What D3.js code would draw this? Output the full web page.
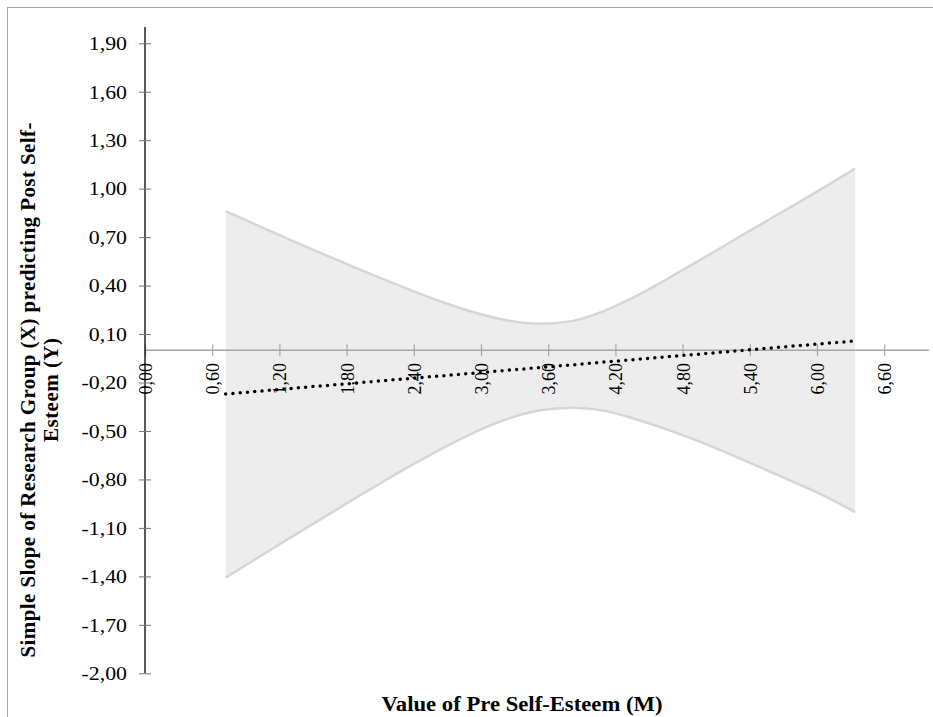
<!DOCTYPE html>
<html>
<head>
<meta charset="utf-8">
<script src="https://cdn.jsdelivr.net/npm/d3@7"></script>
<style>
  html, body { margin: 0; padding: 0; background: #fff; }
  svg { display: block; }
  text { font-family: "Liberation Serif", "Times New Roman", serif; fill: #000; }
</style>
</head>
<body>
<svg id="chart" width="933" height="717"></svg>
<script>
// ---- data ----
const moderatorValues = [0.72, 1.00, 1.28, 1.56, 1.84, 2.12, 2.40, 2.68, 2.96, 3.24, 3.53, 3.81, 4.09, 4.37, 4.65, 4.93, 5.21, 5.49, 5.78, 6.06, 6.34];
const simpleSlope = [-0.271, -0.255, -0.238, -0.222, -0.206, -0.189, -0.173, -0.157, -0.140, -0.124, -0.107, -0.091, -0.074, -0.058, -0.041, -0.025, -0.009, 0.008, 0.025, 0.041, 0.057];
const upperCI = [0.860, 0.774, 0.688, 0.604, 0.522, 0.442, 0.364, 0.292, 0.230, 0.184, 0.164, 0.180, 0.240, 0.330, 0.436, 0.548, 0.662, 0.776, 0.892, 1.006, 1.124];
const lowerCI = [-1.408, -1.288, -1.168, -1.050, -0.932, -0.816, -0.704, -0.598, -0.502, -0.424, -0.372, -0.356, -0.374, -0.424, -0.488, -0.560, -0.640, -0.724, -0.812, -0.900, -1.002];
const xTickValues = [0.00, 0.60, 1.20, 1.80, 2.40, 3.00, 3.60, 4.20, 4.80, 5.40, 6.00, 6.60];
const yTickValues = [-2.00, -1.70, -1.40, -1.10, -0.80, -0.50, -0.20, 0.10, 0.40, 0.70, 1.00, 1.30, 1.60, 1.90];
const xTitle = "Value of Pre Self-Esteem (M)";
const yTitleLines = ["Simple Slope of Research Group (X) predicting Post Self-", "Esteem (Y)"];

const fmt = v => v.toFixed(2).replace(".", ",");

const svg = d3.select("#chart");

// chart-area border
svg.append("rect")
  .attr("x", 7.5).attr("y", 7.5).attr("width", 940).attr("height", 730)
  .attr("fill", "#fff").attr("stroke", "#a6a6a6").attr("stroke-width", 1);

const x = d3.scaleLinear().domain([0, 7]).range([145, 929]);
const y = d3.scaleLinear().domain([-2, 2]).range([673.3, 27.1]);

const rows = moderatorValues.map((m, i) => ({ m, s: simpleSlope[i], lo: lowerCI[i], hi: upperCI[i] }));

// confidence band
svg.append("path")
  .datum(rows)
  .attr("fill", "#ededed")
  .attr("d", d3.area().x(d => x(d.m)).y0(d => y(d.lo)).y1(d => y(d.hi)).curve(d3.curveMonotoneX));

const edge = key => d3.line().x(d => x(d.m)).y(d => y(d[key])).curve(d3.curveMonotoneX);
["hi", "lo"].forEach(k => {
  svg.append("path").datum(rows)
    .attr("fill", "none").attr("stroke", "#d6d6d6").attr("stroke-width", 2.5)
    .attr("d", edge(k));
});

// x axis (at y = 0)
const xAxisG = svg.append("g")
  .attr("transform", `translate(0,${y(0)})`)
  .call(d3.axisBottom(x).tickValues(xTickValues).tickSizeOuter(0).tickFormat(""));
xAxisG.select(".domain").attr("stroke", "#a6a6a6").attr("stroke-width", 1.5)
  .attr("d", `M${x(0)},0H${x(7)}`);
xAxisG.selectAll(".tick line").attr("stroke", "#a6a6a6").attr("stroke-width", 1.2)
  .attr("y1", -6).attr("y2", 6);

// x tick labels (rotated)
svg.append("g").selectAll("text")
  .data(xTickValues)
  .join("text")
  .attr("transform", d => `translate(${x(d)},363) scale(1.1,1) rotate(-90)`)
  .attr("text-anchor", "end")
  .attr("dy", "0.35em")
  .style("font-size", "18px")
  .text(fmt);

// y axis
const yAxisG = svg.append("g")
  .attr("transform", `translate(${x(0)},0)`)
  .call(d3.axisLeft(y).tickValues(yTickValues).tickSizeOuter(0).tickFormat(""));
yAxisG.select(".domain").attr("stroke", "#000").attr("stroke-width", 1.3)
  .attr("d", `M0,${y(-2)}V${y(2)}`);
yAxisG.selectAll(".tick line").attr("stroke", "#777").attr("stroke-width", 1)
  .attr("x1", -6).attr("x2", 6);

svg.append("g").selectAll("text")
  .data(yTickValues)
  .join("text")
  .attr("transform", d => `translate(127,${y(d)}) scale(1.12,1)`)
  .attr("dy", "0.35em")
  .attr("text-anchor", "end")
  .style("font-size", "19.5px")
  .text(fmt);

// dotted simple-slope line
svg.append("path").datum(rows)
  .attr("fill", "none").attr("stroke", "#000")
  .attr("stroke-width", 3.5).attr("stroke-linecap", "round")
  .attr("stroke-dasharray", "0 7.3")
  .attr("d", d3.line().x(d => x(d.m)).y(d => y(d.s)));

// axis titles
svg.append("text")
  .attr("x", 522).attr("y", 711)
  .attr("text-anchor", "middle")
  .attr("textLength", 281).attr("lengthAdjust", "spacingAndGlyphs")
  .style("font-size", "20px").style("font-weight", "bold")
  .text(xTitle);

const yt = svg.append("text")
  .attr("transform", "translate(0,390) rotate(-90)")
  .attr("text-anchor", "middle")
  .style("font-size", "21px").style("font-weight", "bold");
yt.selectAll("tspan").data(yTitleLines).join("tspan")
  .attr("x", 0)
  .attr("y", (d, i) => i === 0 ? 35 : 58)
  .attr("textLength", (d, i) => i === 0 ? 535 : 104)
  .attr("lengthAdjust", "spacing")
  .text(d => d);
</script>
</body>
</html>
